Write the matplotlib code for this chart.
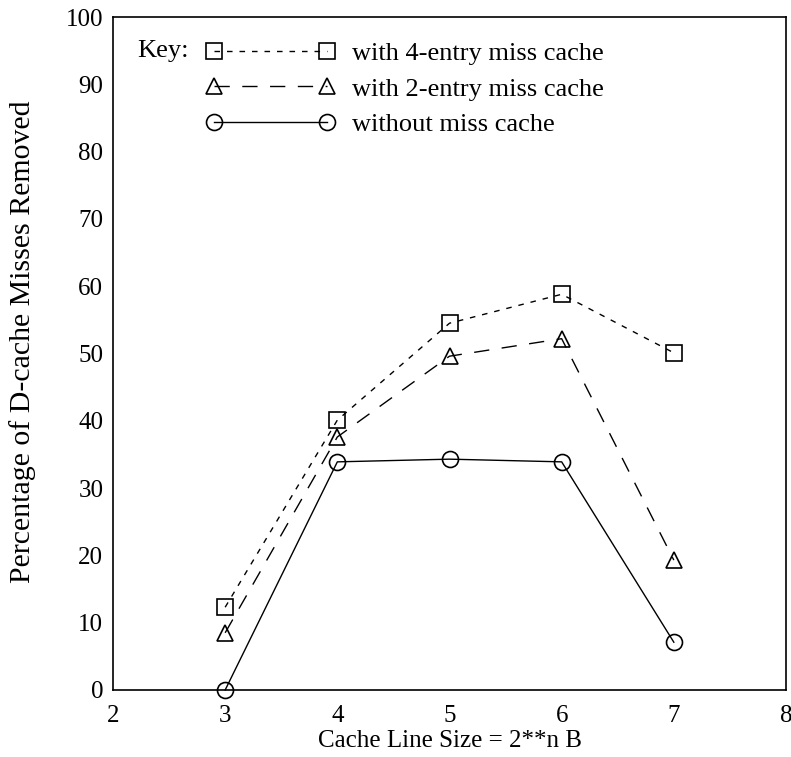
import matplotlib
matplotlib.use("Agg")
import matplotlib.pyplot as plt

plt.rcParams['font.family'] = ['Liberation Serif', 'DejaVu Serif']

line_size_n = [3, 4, 5, 6, 7]
four_entry = [12.3, 40.1, 54.5, 58.8, 50.1]
two_entry = [8.5, 37.6, 49.6, 52.2, 19.3]
no_cache = [0.0, 33.9, 34.3, 33.9, 7.1]

series_labels = ["with 4-entry miss cache", "with 2-entry miss cache", "without miss cache"]
x_ticks = [2, 3, 4, 5, 6, 7, 8]
y_ticks = [0, 10, 20, 30, 40, 50, 60, 70, 80, 90, 100]

fig = plt.figure(figsize=(7.91, 7.57), dpi=100)
ax = fig.add_axes([113 / 791, 1 - 690 / 757, 673 / 791, 673 / 757])

common = dict(color='black', linewidth=1.0, markersize=11.5, markerfacecolor='none',
              markeredgecolor='black', markeredgewidth=1.2, clip_on=False)
ax.plot(line_size_n, four_entry, marker='s', dashes=(4, 5), label=series_labels[0], **common)
ax.plot(line_size_n, two_entry, marker='^', dashes=(11, 9), label=series_labels[1], **common)
ax.plot(line_size_n, no_cache, marker='o', linestyle='-', label=series_labels[2], **common)

ax.set_xlim(2, 8)
ax.set_ylim(0, 100)
ax.set_xticks(x_ticks)
ax.set_yticks(y_ticks)
ax.tick_params(length=0, labelsize=18)
ax.tick_params(axis='x', pad=11)
ax.tick_params(axis='y', pad=7)
for s in ax.spines.values():
    s.set_linewidth(1.2)

ax.set_xlabel("Cache Line Size = 2**n B", fontsize=18, labelpad=2)
ax.set_ylabel("Percentage of D-cache Misses Removed", fontsize=21.5)
ax.yaxis.set_label_coords(-0.114, 0.517)

leg = ax.legend(loc='upper left', bbox_to_anchor=(0.122, 0.979), frameon=False,
                numpoints=2, handlelength=4.9, handletextpad=0.65, labelspacing=0.45,
                fontsize=19, borderaxespad=0)
ax.text(0.036, 0.9495, "Key:", transform=ax.transAxes, fontsize=19, va='center', ha='left')

fig.savefig("out.png", dpi=100)
